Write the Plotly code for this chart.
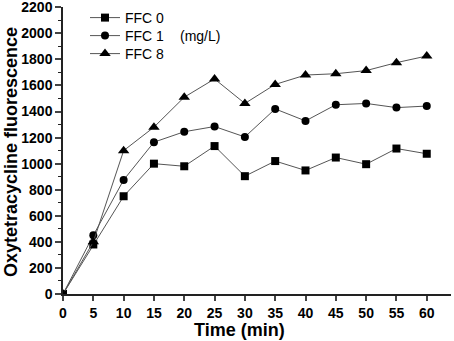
import plotly.graph_objects as go

time_min = [0, 5, 10, 15, 20, 25, 30, 35, 40, 45, 50, 55, 60]
ffc0 = [0, 380, 750, 1000, 980, 1135, 904, 1020, 948, 1047, 996, 1116, 1076]
ffc1 = [0, 450, 875, 1165, 1245, 1285, 1205, 1420, 1328, 1452, 1462, 1430, 1442]
ffc8 = [0, 400, 1100, 1280, 1510, 1650, 1462, 1608, 1680, 1690, 1714, 1775, 1826]
series_names = ["FFC 0", "FFC 1", "FFC 8"]
x_ticks = [0, 5, 10, 15, 20, 25, 30, 35, 40, 45, 50, 55, 60]
y_ticks = [0, 200, 400, 600, 800, 1000, 1200, 1400, 1600, 1800, 2000, 2200]

symbols = ["square", "circle", "triangle-up"]
sizes = [8, 8, 10]
legend_ids = ["legend", "legend2", "legend3"]

W, H = 454, 341
L, R, T, B = 63, 3, 7, 47
pw, ph = W - L - R, H - T - B

def px(x):
    return (x - L) / pw

def py(y):
    return (H - B - y) / ph

fig = go.Figure()
for name, vals, sym, sz, lg in zip(series_names, [ffc0, ffc1, ffc8], symbols, sizes, legend_ids):
    fig.add_trace(go.Scatter(
        x=time_min, y=vals, name=name, mode="lines+markers", legend=lg,
        line=dict(color="#555555", width=1),
        marker=dict(symbol=sym, size=sz, color="black"),
    ))

tickfont = dict(size=14, family="Liberation Sans, Arial, sans-serif", color="black")

def legend_at(row_y):
    return dict(x=px(85), y=py(row_y), xanchor="left", yanchor="middle",
                bgcolor="rgba(0,0,0,0)", font=dict(size=14),
                itemwidth=30, tracegroupgap=0)

fig.update_layout(
    width=W, height=H,
    margin=dict(l=L, r=R, t=T, b=B, autoexpand=False),
    paper_bgcolor="white", plot_bgcolor="white",
    font=dict(family="Liberation Sans, Arial, sans-serif", color="black"),
    showlegend=True,
    legend=legend_at(18),
    legend2=legend_at(36),
    legend3=legend_at(54),
    xaxis=dict(range=[0, 64], tickvals=x_ticks, ticktext=[f"<b>{v}</b>" for v in x_ticks],
               ticks="outside", ticklen=5, automargin=False, ticklabeloverflow="allow",
               tickwidth=1.5, showline=True, linewidth=1.5, linecolor="#222222",
               showgrid=False, zeroline=False, tickfont=tickfont),
    yaxis=dict(range=[0, 2202], tickvals=y_ticks, ticktext=[f"<b>{v}</b>" for v in y_ticks],
               ticks="outside", ticklen=6, automargin=False, ticklabeloverflow="allow",
               tickwidth=1.5, showline=True, linewidth=1.5, linecolor="#222222",
               showgrid=False, zeroline=False,
               minor=dict(dtick=100, ticks="outside", ticklen=3, tickwidth=1, tickcolor="#222222"),
               tickfont=tickfont),
    annotations=[
        dict(text="(mg/L)", x=px(200), y=py(36), xref="paper", yref="paper", showarrow=False,
             xanchor="center", yanchor="middle", font=dict(size=14)),
        dict(text="<b>Time (min)</b>", x=px(239.5), y=py(330), xref="paper", yref="paper",
             xanchor="center", yanchor="middle", showarrow=False, font=dict(size=18)),
        dict(text="<b>Oxytetracycline fluorescence</b>", x=px(11), y=py(152), xref="paper", yref="paper",
             textangle=-90, xanchor="center", yanchor="middle", showarrow=False, font=dict(size=18)),
    ],
)

fig.write_html("out.html", config={"displayModeBar": False},
               post_script="document.body.style.margin='0';document.body.style.padding='0';")
